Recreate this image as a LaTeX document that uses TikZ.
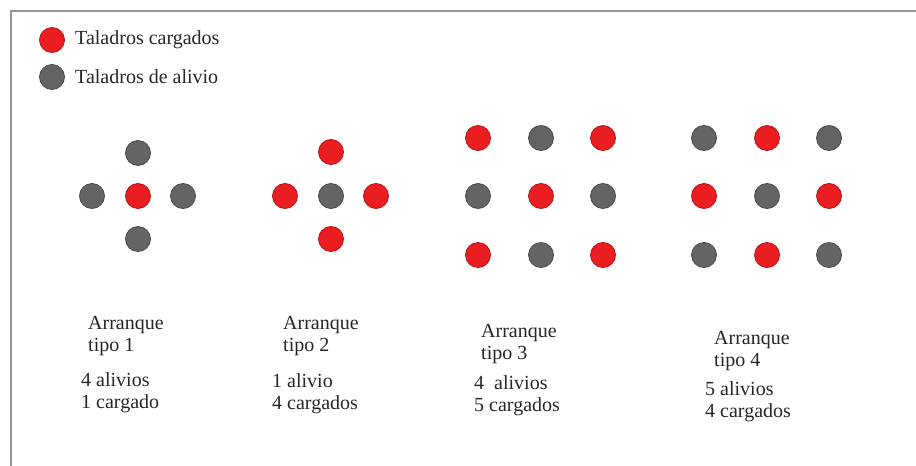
\documentclass[tikz,border=0pt]{standalone}
\usepackage{fontspec}
\setmainfont{Liberation Serif}
\definecolor{rojo}{RGB}{234,30,32}
\definecolor{rojoborde}{RGB}{175,22,24}
\definecolor{gris}{RGB}{100,100,100}
\definecolor{grisborde}{RGB}{74,74,74}
\definecolor{marco}{RGB}{150,150,150}
\begin{document}
\begin{tikzpicture}[x=1pt,y=-1pt,
  every node/.style={font=\fontsize{20}{22}\selectfont,text=black!85,inner sep=0pt},
  cargado/.style={circle,fill=rojo,draw=rojoborde,line width=0.8pt,minimum size=25pt},
  alivio/.style={circle,fill=gris,draw=grisborde,line width=0.8pt,minimum size=25pt},
  rotulo/.style={align=left,anchor=west}]
  \useasboundingbox (0,0) rectangle (916,466);
  \draw[marco,line width=1.5pt] (11,466) -- (11,11) -- (916,11);
  \node[cargado] (leyc) at (52,40) {};
  \node[alivio] (leya) at (52,77) {};
  \node[anchor=west] (leyctxt) at (75,40) {Taladros cargados};
  \node[anchor=west] (leyatxt) at (75,77) {Taladros de alivio};
  % tipo 1
  \node[cargado] (t1c) at (138,196) {};
  \node[alivio] (t1n) at (138,153) {};
  \node[alivio] (t1s) at (138,239) {};
  \node[alivio] (t1o) at (92,196) {};
  \node[alivio] (t1e) at (183,196) {};
  \node[rotulo] (t1nom) at (88,336) {Arranque\\tipo 1};
  \node[rotulo] (t1cnt) at (81,393) {4 alivios\\1 cargado};
  % tipo 2
  \node[alivio] (t2c) at (331,196) {};
  \node[cargado] (t2n) at (331,152) {};
  \node[cargado] (t2s) at (331,239) {};
  \node[cargado] (t2o) at (285,196) {};
  \node[cargado] (t2e) at (376,196) {};
  \node[rotulo] (t2nom) at (283,336) {Arranque\\tipo 2};
  \node[rotulo] (t2cnt) at (272,394) {1 alivio\\4 cargados};
  % tipo 3
  \node[cargado] (t3a) at (478,138) {};
  \node[alivio] (t3b) at (541,138) {};
  \node[cargado] (t3c) at (603,138) {};
  \node[alivio] (t3d) at (478,196) {};
  \node[cargado] (t3e) at (541,196) {};
  \node[alivio] (t3f) at (603,196) {};
  \node[cargado] (t3g) at (478,255) {};
  \node[alivio] (t3h) at (541,255) {};
  \node[cargado] (t3i) at (603,255) {};
  \node[rotulo] (t3nom) at (481,344) {Arranque\\tipo 3};
  \node[rotulo] (t3cnt) at (474,396) {4\ \ alivios\\5 cargados};
  % tipo 4
  \node[alivio] (t4a) at (704,138) {};
  \node[cargado] (t4b) at (767,138) {};
  \node[alivio] (t4c) at (829,138) {};
  \node[cargado] (t4d) at (704,196) {};
  \node[alivio] (t4e) at (767,196) {};
  \node[cargado] (t4f) at (829,196) {};
  \node[alivio] (t4g) at (704,255) {};
  \node[cargado] (t4h) at (767,255) {};
  \node[alivio] (t4i) at (829,255) {};
  \node[rotulo] (t4nom) at (714,351) {Arranque\\tipo 4};
  \node[rotulo] (t4cnt) at (705,402) {5 alivios\\4 cargados};
\end{tikzpicture}
\end{document}
